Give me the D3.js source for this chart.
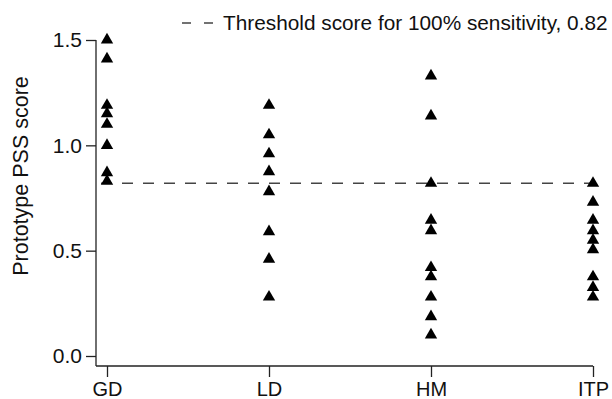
<!DOCTYPE html>
<html>
<head>
<meta charset="utf-8">
<script src="https://cdn.jsdelivr.net/npm/d3@7"></script>
<style>
  body { margin: 0; background: #fff; }
  text { font-family: "Liberation Sans", Arial, sans-serif; fill: #111; }
</style>
</head>
<body>
<div id="chart"></div>
<script>
// data
const groups = ["GD", "LD", "HM", "ITP"];
const gdScores = [1.50, 1.41, 1.19, 1.15, 1.10, 1.00, 0.87, 0.83];
const ldScores = [1.19, 1.05, 0.96, 0.875, 0.78, 0.59, 0.46, 0.28];
const hmScores = [1.33, 1.14, 0.82, 0.645, 0.595, 0.42, 0.376, 0.28, 0.187, 0.10];
const itpScores = [0.82, 0.73, 0.645, 0.595, 0.55, 0.505, 0.376, 0.326, 0.28];
const yTicks = [0.0, 0.5, 1.0, 1.5];
const threshold = 0.82;
const legendLabel = "Threshold score for 100% sensitivity, 0.82";

const width = 612, height = 399;
const ink = "#222";

const svg = d3.select("#chart").append("svg")
    .attr("width", width)
    .attr("height", height);

let x = d3.scalePoint().domain(groups).range([107, 593]);
let y = d3.scaleLinear().domain([0, 1.5]).range([356, 40]);

let points = [];
[gdScores, ldScores, hmScores, itpScores].forEach((vals, i) => {
    vals.forEach(v => points.push({ group: groups[i], value: v }));
});

// axes lines (L shape, like R base plots)
const xAxisY = y(0) + 10;
svg.append("line")
    .attr("x1", 96).attr("x2", 96)
    .attr("y1", y(1.5)).attr("y2", xAxisY)
    .attr("stroke", ink).attr("stroke-width", 1.3);
svg.append("line")
    .attr("x1", 96).attr("x2", x("ITP"))
    .attr("y1", xAxisY).attr("y2", xAxisY)
    .attr("stroke", ink).attr("stroke-width", 1.3);

// y ticks
let yAxis = svg.append("g")
    .attr("transform", "translate(96,0)")
    .call(d3.axisLeft(y).tickValues(yTicks).tickFormat(d3.format(".1f")).tickSize(10).tickPadding(4).tickSizeOuter(0));
yAxis.select(".domain").remove();
yAxis.selectAll("line").attr("stroke", ink).attr("stroke-width", 1.3);
yAxis.selectAll("text").style("font-size", "21px").attr("fill", "#111");

// x ticks (kept just inside the bottom edge)
let xAxis = svg.append("g")
    .attr("transform", `translate(0,${xAxisY})`)
    .call(d3.axisBottom(x).tickSize(11).tickPadding(5).tickSizeOuter(0));
xAxis.select(".domain").remove();
xAxis.selectAll("line").attr("stroke", ink).attr("stroke-width", 1.3);
xAxis.selectAll("text").style("font-size", "20px").attr("fill", "#111");

// y label
svg.append("text")
    .attr("transform", "translate(28,176) rotate(-90)")
    .attr("text-anchor", "middle")
    .style("font-size", "21.5px")
    .text("Prototype PSS score");

// threshold line
svg.append("line")
    .attr("x1", 101).attr("x2", 600)
    .attr("y1", y(threshold)).attr("y2", y(threshold))
    .attr("stroke", "#444").attr("stroke-width", 1.3)
    .attr("stroke-dasharray", "11,10");

// legend
svg.append("line")
    .attr("x1", 182).attr("x2", 213)
    .attr("y1", 23).attr("y2", 23)
    .attr("stroke", "#444").attr("stroke-width", 1.3)
    .attr("stroke-dasharray", "9,13");
svg.append("text")
    .attr("x", 223).attr("y", 29.5)
    .style("font-size", "20.8px")
    .text(legendLabel);

// triangles
svg.append("g")
    .selectAll("path")
    .data(points)
    .enter().append("path")
    .attr("d", d3.symbol().type(d3.symbolTriangle).size(66))
    .attr("transform", d => `translate(${x(d.group)},${y(d.value)})`)
    .attr("fill", "#000");
</script>
</body>
</html>
